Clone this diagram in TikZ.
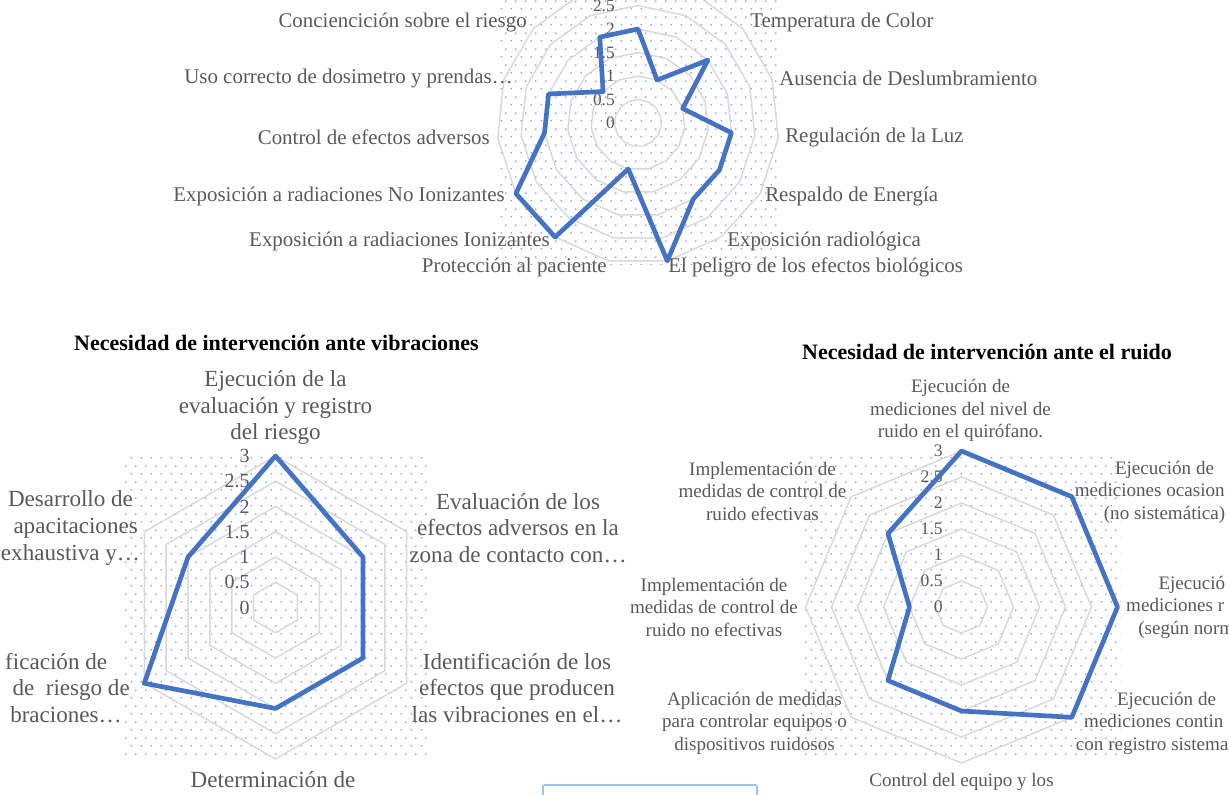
\documentclass[tikz,border=0pt]{standalone}
\usepackage{fontspec}
\setmainfont{Liberation Serif}
\usetikzlibrary{patterns}

\definecolor{serieblue}{HTML}{4472C4}
\definecolor{gridgray}{HTML}{D9D9D9}
\definecolor{labelgray}{HTML}{595959}
\definecolor{dotblue}{HTML}{7C9FE0}
\definecolor{boxblue}{HTML}{9DC3E6}

% staggered dots of the plot areas
\pgfdeclarepatternformonly{plotdots}{\pgfpointorigin}{\pgfqpoint{7.5pt}{12pt}}{\pgfqpoint{7.5pt}{12pt}}{%
  \pgfpathcircle{\pgfqpoint{1pt}{1pt}}{0.75pt}%
  \pgfpathcircle{\pgfqpoint{4.75pt}{7pt}}{0.75pt}%
  \pgfusepath{fill}}

\tikzset{
  radargrid/.style={draw=gridgray, line width=1.1pt},
  radarline/.style={draw=serieblue, line width=3.5pt, line join=round},
  plotarea/.style={pattern=plotdots, pattern color=dotblue},
  axislbl/.style={text=labelgray, inner sep=0pt, align=center},
  toplbl/.style={axislbl, font=\fontsize{15.7}{18}\selectfont},
  viblbl/.style={axislbl, font=\fontsize{17.3}{19.9}\selectfont},
  ruidolbl/.style={axislbl, font=\fontsize{14.3}{16.9}\selectfont},
  toptick/.style={text=labelgray, inner sep=0pt, anchor=east, font=\fontsize{13}{15}\selectfont},
  vibtick/.style={toptick, font=\fontsize{15}{17}\selectfont},
  ruidotick/.style={toptick, font=\fontsize{13.2}{15}\selectfont},
  charttitle/.style={inner sep=0pt, font=\bfseries\fontsize{16.5}{19}\selectfont},
}

\begin{document}
\begin{tikzpicture}[x=0.75pt, y=-0.75pt]
\useasboundingbox (0,0) rectangle (1229,794);
\clip (0,0) rectangle (1229,794);

% ---------- upper chart (15 categories, top cut off)
\begin{scope}[shift={(638,123)}]
  \fill[plotarea] (-141,-141) rectangle (141,141);
  \foreach \v in {0.5,1,1.5,2,2.5,3}
    \draw[radargrid] (-90:{\v*47}) \foreach \k in {1,...,14} {-- ({-90+24*\k}:{\v*47})} -- cycle;
  \foreach \v in {0,0.5,1,1.5,2,2.5}
    \node[toptick] at (-23,{-\v*47}) {\v};
  \draw[radarline] (-90:94) -- (-66:47) -- (-42:94) -- (-18:47) -- (6:94) -- (30:94) -- (54:94)
    -- (78:141) -- (102:47) -- (126:141) -- (150:141) -- (174:94) -- (198:94) -- (222:47) -- (246:94) -- cycle;
\end{scope}

\node[toplbl, anchor=east] (conc) at (527,22) {Conciencición sobre el riesgo};
\node[toplbl, anchor=east] (dosim) at (513,78) {Uso correcto de dosimetro y prendas…};
\node[toplbl, anchor=east] (ctrl) at (490,137) {Control de efectos adversos};
\node[toplbl, anchor=east] (noion) at (505,196) {Exposición a radiaciones No Ionizantes};
\node[toplbl, anchor=east] (ion) at (550,241.5) {Exposición a radiaciones Ionizantes};
\node[toplbl, anchor=east] (prot) at (607,267) {Protección al paciente};
\node[toplbl, anchor=west] (temp) at (750,22) {Temperatura de Color};
\node[toplbl, anchor=west] (desl) at (779,78) {Ausencia de Deslumbramiento};
\node[toplbl, anchor=west] (regl) at (785,137) {Regulación de la Luz};
\node[toplbl, anchor=west] (resp) at (765,196) {Respaldo de Energía};
\node[toplbl, anchor=west] (radio) at (727,241.5) {Exposición radiológica};
\node[toplbl, anchor=west] (pelig) at (668,267) {El peligro de los efectos biológicos};

% ---------- vibraciones (6 categories)
\node[charttitle] (titvib) at (276.5,343) {Necesidad de intervención ante vibraciones};
\begin{scope}[shift={(275.5,607.5)}]
  \fill[plotarea] (-152,-152) rectangle (152,150);
  \foreach \v in {0.5,1,1.5,2,2.5,3}
    \draw[radargrid] (-90:{\v*50.5}) \foreach \k in {1,...,5} {-- ({-90+60*\k}:{\v*50.5})} -- cycle;
  \foreach \v in {0,0.5,1,1.5,2,2.5,3}
    \node[vibtick] at (-25.5,{-\v*50.5}) {\v};
  \draw[radarline] (-90:151.5) -- (-30:101) -- (30:101) -- (90:101) -- (150:151.5) -- (210:101) -- cycle;
\end{scope}

\node[viblbl] (vtop) at (275.5,407.5) {Ejecución de la\\evaluación y registro\\del riesgo};
\node[viblbl] (vur) at (518,528) {Evaluación de los\\efectos adversos en la\\zona de contacto con…};
\node[viblbl] (vlr) at (517,688) {Identificación de los\\efectos que producen\\las vibraciones en el…};
\node[viblbl] (vbot) at (273,780) {Determinación de};
\node[viblbl, align=right, anchor=east] (vll) at (130,688) {ficación de\rule{17pt}{0pt}\\de\ \ riesgo de\\braciones…\rule{6pt}{0pt}};
\node[viblbl] (vul) at (70.5,528) {Desarrollo de\\\phantom{c}apacitaciones\\exhaustiva y…};

% ---------- ruido (8 categories)
\node[charttitle] (titruido) at (987,352) {Necesidad de intervención ante el ruido};
\begin{scope}[shift={(961.5,607)}]
  \fill[plotarea] (-157,-155) rectangle (159,151);
  \foreach \v in {0.5,1,1.5,2,2.5,3}
    \draw[radargrid] (-90:{\v*52}) \foreach \k in {1,...,7} {-- ({-90+45*\k}:{\v*52})} -- cycle;
  \foreach \v in {0,0.5,1,1.5,2,2.5,3}
    \node[ruidotick] at (-18.5,{-\v*52}) {\v};
  \draw[radarline] (-90:156) -- (-45:156) -- (0:156) -- (45:156) -- (90:104) -- (135:104) -- (180:52) -- (225:104) -- cycle;
\end{scope}

\node[ruidolbl] (rtop) at (960.5,410.5) {Ejecución de\\mediciones del nivel de\\ruido en el quirófano.};
\node[ruidolbl] (rur) at (1164.5,492) {Ejecución de\\mediciones ocasion\phantom{ales}\\(no sistemática)};
\node[ruidolbl] (rr) at (1208,607) {Ejecució\phantom{n de}\\mediciones r\phantom{utinarias}\\(según norm\phantom{ativa)}};
\node[ruidolbl] (rlr) at (1166.5,723) {Ejecución de\\mediciones contin\phantom{uas}\\con registro sistema\phantom{tico}};
\node[ruidolbl] (rbot) at (961.5,782) {Control del equipo y los};
\node[ruidolbl] (rll) at (754.5,723) {Aplicación de medidas\\para controlar equipos o\\dispositivos ruidosos};
\node[ruidolbl] (rl) at (714,607) {Implementación de\\medidas de control de\\ruido no efectivas};
\node[ruidolbl] (rul) at (762.5,491) {Implementación de\\medidas de control de\\ruido efectivas};

% legend frame, cut by the bottom edge
\draw[boxblue, line width=1.2pt, rounded corners=1pt] (543,785) rectangle (757,812);
\end{tikzpicture}
\end{document}
